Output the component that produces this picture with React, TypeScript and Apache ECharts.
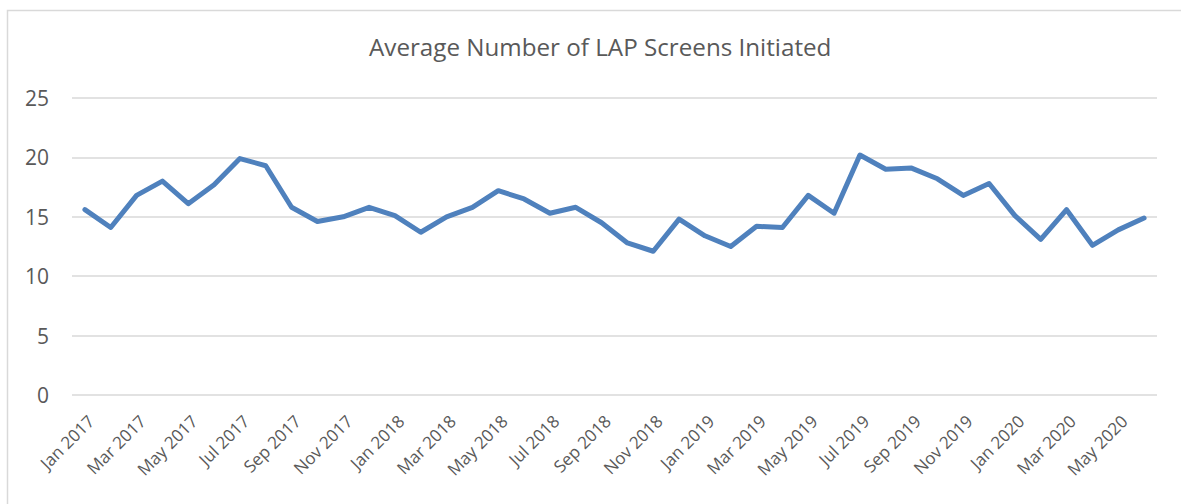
import React, { useEffect, useRef } from "react";
import * as echarts from "echarts";

const months = ["Jan", "Feb", "Mar", "Apr", "May", "Jun", "Jul", "Aug", "Sep", "Oct", "Nov", "Dec"];
const years = [2017, 2018, 2019, 2020];
const categories: string[] = [];
years.forEach((y) => months.forEach((m) => categories.push(`${m} ${y}`)));
const categoryList = categories.slice(0, 42);

const values = [
  15.6, 14.1, 16.8, 18.0, 16.1, 17.7, 19.9, 19.3, 15.8, 14.6, 15.0, 15.8,
  15.1, 13.7, 15.0, 15.8, 17.2, 16.5, 15.3, 15.8, 14.5, 12.8, 12.1, 14.8,
  13.4, 12.5, 14.2, 14.1, 16.8, 15.3, 20.2, 19.0, 19.1, 18.2, 16.8, 17.8,
  15.1, 13.1, 15.6, 12.6, 13.9, 14.9,
];

const yTicks = [0, 5, 10, 15, 20, 25];
const title = "Average Number of LAP Screens Initiated";

export default function App() {
  const ref = useRef<HTMLDivElement>(null);
  useEffect(() => {
    if (!ref.current) return;
    const chart = echarts.init(ref.current, null, { renderer: "svg" });
    const font = "'Open Sans', 'Noto Sans', sans-serif";
    chart.setOption({
      animation: false,
      backgroundColor: "#ffffff",
      title: {
        text: title,
        left: 364,
        top: 29,
        textStyle: { fontFamily: font, fontSize: 24.2, fontWeight: "normal", color: "#595959" },
      },
      graphic: [
        {
          type: "rect",
          shape: { x: 7.5, y: 10.5, width: 1300, height: 700 },
          style: { fill: "none", stroke: "#d9d9d9", lineWidth: 1.5 },
          silent: true,
        },
      ],
      grid: { left: 72, right: 24, top: 98, bottom: 109, containLabel: false },
      xAxis: {
        type: "category",
        data: categoryList,
        boundaryGap: true,
        axisLine: { show: false },
        axisTick: { show: false },
        axisLabel: {
          interval: 1,
          rotate: 45,
          margin: 17,
          verticalAlign: "top",
          fontFamily: font,
          fontSize: 17,
          color: "#595959",
        },
      },
      yAxis: {
        type: "value",
        min: yTicks[0],
        max: yTicks[yTicks.length - 1],
        interval: 5,
        axisLine: { show: false },
        axisTick: { show: false },
        axisLabel: { margin: 23, fontFamily: font, fontSize: 21, color: "#595959" },
        splitLine: { lineStyle: { color: "#d9d9d9", width: 1.5 } },
      },
      series: [
        {
          type: "line",
          data: values,
          showSymbol: false,
          symbol: "none",
          lineStyle: { color: "#4f81bd", width: 5, join: "round", cap: "round" },
          itemStyle: { color: "#4f81bd" },
        },
      ],
    });
    return () => chart.dispose();
  }, []);
  return (
    <div
      ref={ref}
      style={{ position: "fixed", left: 0, top: 0, width: 1181, height: 504 }}
    />
  );
}
